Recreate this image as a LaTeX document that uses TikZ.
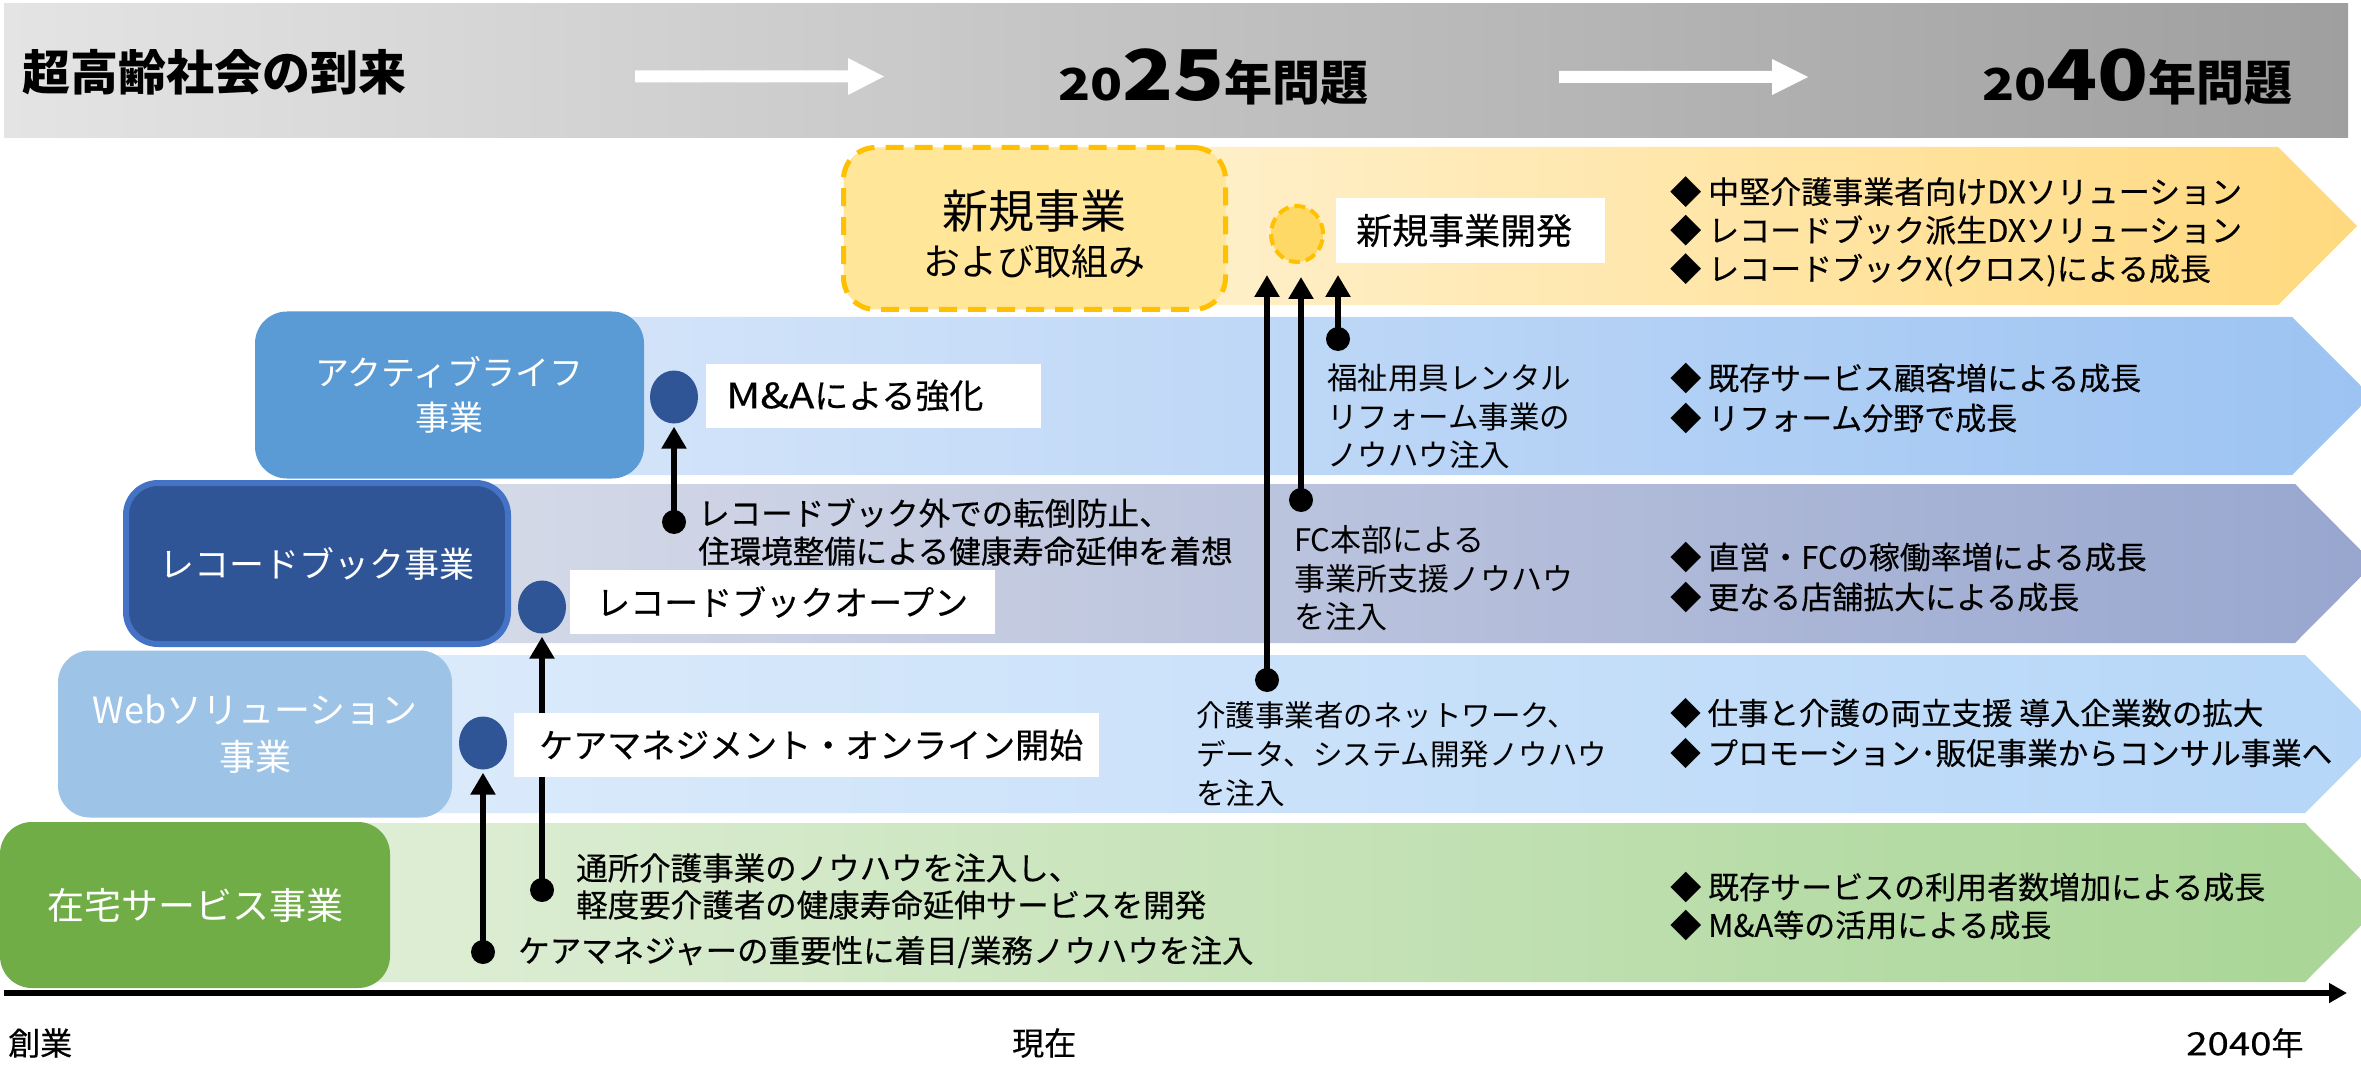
\documentclass[tikz,border=0pt]{standalone}
\usepackage{fontspec}
\usepackage{graphicx}
\setmainfont{Noto Sans CJK JP}
\newfontfamily\jpm[FakeBold=0.35]{Noto Sans CJK JP}
\usetikzlibrary{arrows.meta,shapes.geometric}
\definecolor{bannerL}{HTML}{E4E4E4}
\definecolor{bannerR}{HTML}{9F9F9F}
\definecolor{yL}{HTML}{FFF3D4}
\definecolor{yR}{HTML}{FFD97F}
\definecolor{bbL}{HTML}{D8E7FA}
\definecolor{bbR}{HTML}{9CC3F2}
\definecolor{rbL}{HTML}{DADEEA}
\definecolor{rbR}{HTML}{98A6CF}
\definecolor{wbL}{HTML}{DEECFB}
\definecolor{wbR}{HTML}{B5D6F8}
\definecolor{gL}{HTML}{E3F0DB}
\definecolor{gR}{HTML}{A8D595}
\definecolor{cActive}{HTML}{5B9BD5}
\definecolor{cRB}{HTML}{2F5597}
\definecolor{cRBborder}{HTML}{4472C4}
\definecolor{cWeb}{HTML}{9DC3E6}
\definecolor{cHome}{HTML}{70AD47}
\definecolor{cNewFill}{HTML}{FFE699}
\definecolor{cGold}{HTML}{FFC000}
\definecolor{cYDot}{HTML}{FFD966}
\definecolor{dotblue}{HTML}{2F5597}
\newcommand\fsz[2]{\fontsize{#1pt}{#2pt}\selectfont}
\newcommand\dg[1]{\scalebox{1.2}[1]{#1}}
\begin{document}
\begin{tikzpicture}[x=1pt,y=-1pt,
  bizbox/.style={rounded corners=32pt, inner sep=0pt, align=center, text=white},
  bluedot/.style={ellipse, fill=dotblue, minimum width=48pt, minimum height=53pt, inner sep=0pt},
  blkdot/.style={circle, fill=black, minimum size=24pt, inner sep=0pt},
  lblbox/.style={fill=white, inner ysep=0pt, minimum height=64pt, anchor=west, align=left, font=\jpm\fsz{34}{40}},
  txt/.style={inner sep=0pt, anchor=west, align=left},
  conn/.style={line width=6.5pt, -{Triangle[length=22pt,width=24pt]}},
  whitearrow/.style={fill=white}
]
\useasboundingbox (0,0) rectangle (2361,1067);
\clip (0,0) rectangle (2361,1067);
\fill[white] (0,0) rectangle (2361,1067);

% banner
\shade[left color=bannerL, right color=bannerR] (4,4) rectangle (2348,138);
\node[inner sep=0pt, anchor=west, font=\fsz{48}{48}\bfseries] (title) at (22,72) {超高齢社会の到来};
\fill[whitearrow] (635,70.5) -- (848,70.5) -- (848,58) -- (884,76.5) -- (848,95) -- (848,82.5) -- (635,82.5) -- cycle;
\fill[whitearrow] (1559,71) -- (1772,71) -- (1772,59) -- (1808,77) -- (1772,95) -- (1772,83) -- (1559,83) -- cycle;
\node[inner sep=0pt, anchor=base west, font=\bfseries] (y2025) at (1058,101)
  {\fsz{44}{44}\dg{20}\fsz{70}{70}\dg{25}\fsz{48}{48}年問題};
\node[inner sep=0pt, anchor=base west, font=\bfseries] (y2040) at (1982,101)
  {\fsz{44}{44}\dg{20}\fsz{70}{70}\dg{40}\fsz{48}{48}年問題};

% bands
\shade[left color=yL, right color=yR] (1030,147) -- (2278,147) -- (2357,226) -- (2278,305) -- (1030,305) -- cycle;
\shade[left color=bbL, right color=bbR] (450,317) -- (2292,317) -- (2371,396) -- (2292,475) -- (450,475) -- cycle;
\shade[left color=rbL, right color=rbR] (317,484) -- (2295,484) -- (2374,563.5) -- (2295,643) -- (317,643) -- cycle;
\shade[left color=wbL, right color=wbR] (253,655) -- (2305,655) -- (2384,734) -- (2305,813) -- (253,813) -- cycle;
\shade[left color=gL, right color=gR] (195,823) -- (2305,823) -- (2384,902.5) -- (2305,982) -- (195,982) -- cycle;

% business boxes
\node[bizbox, fill=cNewFill, draw=cGold, line width=5pt, dash pattern=on 18pt off 11pt,
  minimum width=382pt, minimum height=162pt] (b1) at (1034.5,228.5) {};
\node[inner sep=0pt, font=\fsz{46}{46}] (b1a) at ([yshift=17pt]b1.center) {新規事業};
\node[inner sep=0pt, font=\fsz{37}{37}] (b1b) at ([yshift=-33pt]b1.center) {および取組み};
\node[bizbox, fill=cActive, minimum width=389pt, minimum height=167pt, font=\fsz{34}{45}] (b2) at (449.5,395) {アクティブライフ\\事業};
\node[bizbox, fill=cRB, draw=cRBborder, line width=6pt, minimum width=382pt, minimum height=161pt, font=\fsz{35}{40}] (b3) at (317,563.5) {レコードブック事業};
\node[bizbox, fill=cWeb, minimum width=394pt, minimum height=167pt, font=\fsz{36}{47}] (b4) at (255,734) {Webソリューション\\事業};
\node[bizbox, fill=cHome, minimum width=390pt, minimum height=166pt, font=\fsz{37}{40}] (b5) at (195,905) {在宅サービス事業};

% dots
\node[bluedot] (dMA) at (674,397) {};
\node[bluedot] (dRB) at (542,607) {};
\node[bluedot] (dCM) at (483,743) {};
\node[ellipse, fill=cYDot, draw=cGold, line width=4pt, dash pattern=on 11pt off 6pt,
  minimum width=52pt, minimum height=56pt, inner sep=0pt] (dNew) at (1297,234) {};
\node[blkdot] (sOut) at (674,522) {};
\node[blkdot] (sTsu) at (542,890) {};
\node[blkdot] (sCare) at (483,952) {};
\node[blkdot] (sKaigo) at (1267,680) {};
\node[blkdot] (sFC) at (1301,500) {};
\node[blkdot] (sFuku) at (1338,339) {};
\coordinate (t1) at (1267,275);
\coordinate (t2) at (1301,277);
\coordinate (t3) at (1338,275);

% connectors
\draw[conn, shorten >=3pt] (sOut.center) -- (dMA.south);
\draw[conn, shorten >=3pt] (sTsu.center) -- (dRB.south);
\draw[conn, shorten >=3pt] (sCare.center) -- (dCM.south);
\draw[conn] (sKaigo.center) -- (t1);
\draw[conn] (sFC.center) -- (t2);
\draw[conn] (sFuku.center) -- (t3);

% label boxes
\node[lblbox, inner xsep=20pt, text width=295pt] (lMA) at (706,395.5) {{\fsz{35}{40}\dg{M\&A}}による強化};
\node[lblbox, inner xsep=26pt, text width=373pt] (lRB) at (570,602) {レコードブックオープン};
\node[lblbox, inner xsep=25pt, text width=535pt] (lCM) at (514,745) {ケアマネジメント・オンライン開始};
\node[lblbox, inner xsep=20pt, text width=229pt, minimum height=65pt, font=\jpm\fsz{36}{40}] (lNew) at (1336,230.5) {新規事業開発};

% explanatory texts
\node[txt, font=\jpm\fsz{31.5}{38}] (tOut) at (698,532) {レコードブック外での転倒防止、\\住環境整備による健康寿命延伸を着想};
\node[txt, font=\jpm\fsz{31.5}{37}] (tTsu) at (576,886.5) {通所介護事業のノウハウを注入し、\\軽度要介護者の健康寿命延伸サービスを開発};
\node[txt, font=\jpm\fsz{31.5}{38}] (tCare) at (518,952) {ケアマネジャーの重要性に着目/業務ノウハウを注入};
\node[txt, font=\fsz{30.5}{38.5}] (tFuku) at (1327,416.5) {福祉用具レンタル\\リフォーム事業の\\ノウハウ注入};
\node[txt, font=\fsz{31}{38.5}] (tFC) at (1294,578.5) {FC本部による\\事業所支援ノウハウ\\を注入};
\node[txt, font=\fsz{29.5}{39}] (tKaigo) at (1196,754) {介護事業者のネットワーク、\\データ、システム開発ノウハウ\\を注入};

% bullets
\node[txt, font=\jpm\fsz{31}{38.5}] (r1) at (1670,231.5) {◆ 中堅介護事業者向けDXソリューション\\◆ レコードブック派生DXソリューション\\◆ レコードブックX(クロス)による成長};
\node[txt, font=\jpm\fsz{31}{40}] (r2) at (1670,398) {◆ 既存サービス顧客増による成長\\◆ リフォーム分野で成長};
\node[txt, font=\jpm\fsz{31}{40}] (r3) at (1670,577) {◆ 直営・FCの稼働率増による成長\\◆ 更なる店舗拡大による成長};
\node[txt, font=\jpm\fsz{30.5}{40}] (r4) at (1670,733) {◆ 仕事と介護の両立支援 導入企業数の拡大\\◆ プロモーション･販促事業からコンサル事業へ};
\node[txt, font=\jpm\fsz{31}{38}] (r5) at (1670,906) {◆ 既存サービスの利用者数増加による成長\\◆ M\&A等の活用による成長};

% timeline
\coordinate (ax0) at (4,993);
\coordinate (ax1) at (2347,993);
\draw[line width=6.5pt, -{Triangle[length=18pt,width=19pt]}] (ax0) -- (ax1);
\node[txt, font=\jpm\fsz{32}{32}] (ls) at (8,1043) {創業};
\node[txt, font=\jpm\fsz{32}{32}] (lnow) at (1012,1043) {現在};
\node[txt, font=\jpm\fsz{32}{32}] (l2040) at (2186,1043) {\dg{2040}年};
\end{tikzpicture}
\end{document}
